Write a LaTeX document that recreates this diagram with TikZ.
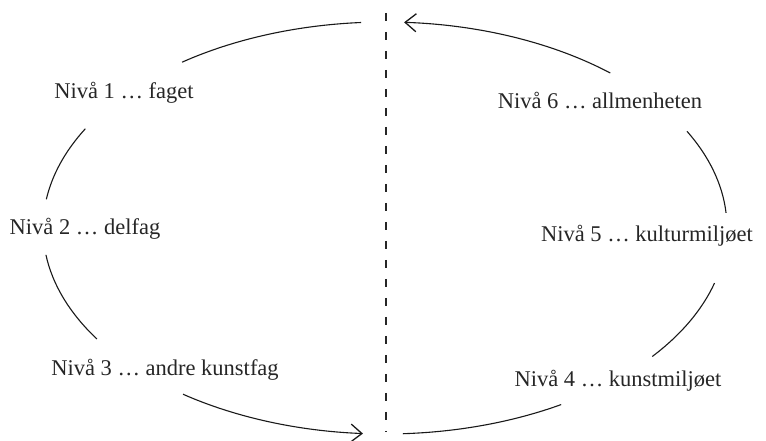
\documentclass[tikz,border=0pt]{standalone}
\usepackage{fontspec}
\setmainfont{Liberation Serif}
\usetikzlibrary{arrows.meta,calc}
\begin{document}
\begin{tikzpicture}[x=1pt,y=1pt,
  lbl/.style={anchor=base,inner sep=0pt,font=\fontsize{22.5}{27}\selectfont,text=black!85},
  ring/.style={line width=1.1pt,black!90,x radius=342pt,y radius=206pt},
  tipd/.style={-{Straight Barb[length=11pt,width=18pt,line width=1.3pt]}}]
\useasboundingbox (0,0) rectangle (766,441);
\coordinate (c) at (385,213);
% labels
\node[lbl] (l1) at (124,342) {Nivå 1 … faget};
\node[lbl] (l2) at (85,206) {Nivå 2 … delfag};
\node[lbl] (l3) at (165,65) {Nivå 3 … andre kunstfag};
\node[lbl] (l4) at (618,54) {Nivå 4 … kunstmiljøet};
\node[lbl] (l5) at (647,199) {Nivå 5 … kulturmiljøet};
\node[lbl] (l6) at (600,332) {Nivå 6 … allmenheten};
% dashed divider
\coordinate (dtop) at (386,428);
\coordinate (dbot) at (386,9);
\draw[line width=1.2pt,black!85,dash pattern=on 8pt off 11pt] (dtop) -- (dbot);
% ring points
\coordinate (p1) at ($(c)+(126.4:342pt and 206pt)$);
\coordinate (p2) at ($(c)+(151.2:342pt and 206pt)$);
\coordinate (p3) at ($(c)+(187.5:342pt and 206pt)$);
\coordinate (p4) at ($(c)+(233.8:342pt and 206pt)$);
\coordinate (p5) at ($(c)+(273:342pt and 206pt)$);
\coordinate (p6) at ($(c)+(321.4:342pt and 206pt)$);
\coordinate (p7) at ($(c)+(4.2:342pt and 206pt)$);
\coordinate (p8) at ($(c)+(48.8:342pt and 206pt)$);
% arcs
\draw[ring] (p1) arc[start angle=126.4,end angle=94];
\draw[ring] (p2) arc[start angle=151.2,end angle=172];
\draw[ring] (p3) arc[start angle=187.5,end angle=212.6];
\draw[ring,tipd] (p4) arc[start angle=233.8,end angle=266.3];
\draw[ring] (p5) arc[start angle=273,end angle=301];
\draw[ring] (p6) arc[start angle=321.4,end angle=344.5];
\draw[ring] (p7) arc[start angle=4.2,end angle=28];
\draw[ring,tipd] (p8) arc[start angle=48.8,end angle=86.8];
\end{tikzpicture}
\end{document}
